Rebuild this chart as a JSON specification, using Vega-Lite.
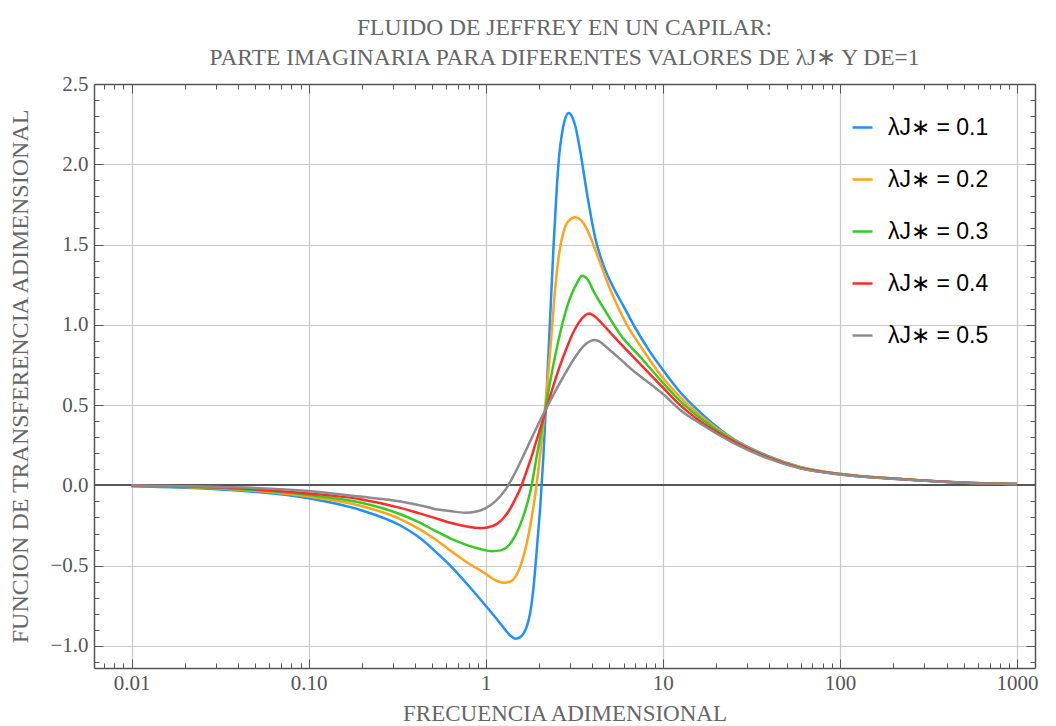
{
  "$schema": "https://vega.github.io/schema/vega-lite/v6.json",
  "width": 941,
  "height": 584,
  "autosize": "none",
  "padding": {"left": 94, "top": 84, "right": 21, "bottom": 58},
  "background": "white",
  "title": {
    "text": ["FLUIDO DE JEFFREY EN UN CAPILAR:", "PARTE  IMAGINARIA PARA DIFERENTES VALORES DE λJ∗ Y DE=1"],
    "font": "Liberation Serif",
    "fontSize": 23.5,
    "fontWeight": "normal",
    "color": "#666666",
    "lineHeight": 30,
    "anchor": "middle",
    "offset": 4
  },
  "datasets": {
    "curvas": [
      {"f": 0.01, "v": -0.005, "serie": "λJ∗ = 0.1"},
      {"f": 0.0318, "v": -0.025, "serie": "λJ∗ = 0.1"},
      {"f": 0.1, "v": -0.08, "serie": "λJ∗ = 0.1"},
      {"f": 0.196, "v": -0.153, "serie": "λJ∗ = 0.1"},
      {"f": 0.33, "v": -0.25, "serie": "λJ∗ = 0.1"},
      {"f": 0.4275, "v": -0.33, "serie": "λJ∗ = 0.1"},
      {"f": 0.506, "v": -0.4, "serie": "λJ∗ = 0.1"},
      {"f": 0.631, "v": -0.5, "serie": "λJ∗ = 0.1"},
      {"f": 0.787, "v": -0.616, "serie": "λJ∗ = 0.1"},
      {"f": 1.0, "v": -0.75, "serie": "λJ∗ = 0.1"},
      {"f": 1.209, "v": -0.86, "serie": "λJ∗ = 0.1"},
      {"f": 1.29, "v": -0.9, "serie": "λJ∗ = 0.1"},
      {"f": 1.376, "v": -0.935, "serie": "λJ∗ = 0.1"},
      {"f": 1.469, "v": -0.955, "serie": "λJ∗ = 0.1"},
      {"f": 1.568, "v": -0.945, "serie": "λJ∗ = 0.1"},
      {"f": 1.651, "v": -0.915, "serie": "λJ∗ = 0.1"},
      {"f": 1.717, "v": -0.87, "serie": "λJ∗ = 0.1"},
      {"f": 1.785, "v": -0.79, "serie": "λJ∗ = 0.1"},
      {"f": 1.864, "v": -0.63, "serie": "λJ∗ = 0.1"},
      {"f": 1.963, "v": -0.34, "serie": "λJ∗ = 0.1"},
      {"f": 2.033, "v": -0.13, "serie": "λJ∗ = 0.1"},
      {"f": 2.114, "v": 0.17, "serie": "λJ∗ = 0.1"},
      {"f": 2.198, "v": 0.53, "serie": "λJ∗ = 0.1"},
      {"f": 2.285, "v": 0.93, "serie": "λJ∗ = 0.1"},
      {"f": 2.345, "v": 1.19, "serie": "λJ∗ = 0.1"},
      {"f": 2.416, "v": 1.49, "serie": "λJ∗ = 0.1"},
      {"f": 2.526, "v": 1.87, "serie": "λJ∗ = 0.1"},
      {"f": 2.602, "v": 2.06, "serie": "λJ∗ = 0.1"},
      {"f": 2.695, "v": 2.19, "serie": "λJ∗ = 0.1"},
      {"f": 2.795, "v": 2.275, "serie": "λJ∗ = 0.1"},
      {"f": 2.937, "v": 2.32, "serie": "λJ∗ = 0.1"},
      {"f": 3.082, "v": 2.295, "serie": "λJ∗ = 0.1"},
      {"f": 3.204, "v": 2.24, "serie": "λJ∗ = 0.1"},
      {"f": 3.42, "v": 2.08, "serie": "λJ∗ = 0.1"},
      {"f": 3.73, "v": 1.82, "serie": "λJ∗ = 0.1"},
      {"f": 4.155, "v": 1.54, "serie": "λJ∗ = 0.1"},
      {"f": 4.628, "v": 1.37, "serie": "λJ∗ = 0.1"},
      {"f": 5.271, "v": 1.23, "serie": "λJ∗ = 0.1"},
      {"f": 5.977, "v": 1.12, "serie": "λJ∗ = 0.1"},
      {"f": 7.171, "v": 0.96, "serie": "λJ∗ = 0.1"},
      {"f": 8.49, "v": 0.83, "serie": "λJ∗ = 0.1"},
      {"f": 10, "v": 0.72, "serie": "λJ∗ = 0.1"},
      {"f": 12.54, "v": 0.58, "serie": "λJ∗ = 0.1"},
      {"f": 16.26, "v": 0.455, "serie": "λJ∗ = 0.1"},
      {"f": 24.97, "v": 0.29, "serie": "λJ∗ = 0.1"},
      {"f": 38.84, "v": 0.185, "serie": "λJ∗ = 0.1"},
      {"f": 59.63, "v": 0.115, "serie": "λJ∗ = 0.1"},
      {"f": 100, "v": 0.072, "serie": "λJ∗ = 0.1"},
      {"f": 218.6, "v": 0.04, "serie": "λJ∗ = 0.1"},
      {"f": 522, "v": 0.016, "serie": "λJ∗ = 0.1"},
      {"f": 1000, "v": 0.008, "serie": "λJ∗ = 0.1"},

      {"f": 0.01, "v": -0.004, "serie": "λJ∗ = 0.2"},
      {"f": 0.0318, "v": -0.02, "serie": "λJ∗ = 0.2"},
      {"f": 0.1, "v": -0.07, "serie": "λJ∗ = 0.2"},
      {"f": 0.196, "v": -0.127, "serie": "λJ∗ = 0.2"},
      {"f": 0.33, "v": -0.21, "serie": "λJ∗ = 0.2"},
      {"f": 0.4275, "v": -0.276, "serie": "λJ∗ = 0.2"},
      {"f": 0.506, "v": -0.328, "serie": "λJ∗ = 0.2"},
      {"f": 0.631, "v": -0.405, "serie": "λJ∗ = 0.2"},
      {"f": 0.787, "v": -0.48, "serie": "λJ∗ = 0.2"},
      {"f": 1.0, "v": -0.55, "serie": "λJ∗ = 0.2"},
      {"f": 1.133, "v": -0.59, "serie": "λJ∗ = 0.2"},
      {"f": 1.262, "v": -0.607, "serie": "λJ∗ = 0.2"},
      {"f": 1.376, "v": -0.6, "serie": "λJ∗ = 0.2"},
      {"f": 1.469, "v": -0.57, "serie": "λJ∗ = 0.2"},
      {"f": 1.568, "v": -0.505, "serie": "λJ∗ = 0.2"},
      {"f": 1.673, "v": -0.4, "serie": "λJ∗ = 0.2"},
      {"f": 1.785, "v": -0.25, "serie": "λJ∗ = 0.2"},
      {"f": 1.856, "v": -0.14, "serie": "λJ∗ = 0.2"},
      {"f": 1.93, "v": -0.01, "serie": "λJ∗ = 0.2"},
      {"f": 2.033, "v": 0.2, "serie": "λJ∗ = 0.2"},
      {"f": 2.141, "v": 0.43, "serie": "λJ∗ = 0.2"},
      {"f": 2.265, "v": 0.72, "serie": "λJ∗ = 0.2"},
      {"f": 2.345, "v": 0.92, "serie": "λJ∗ = 0.2"},
      {"f": 2.438, "v": 1.16, "serie": "λJ∗ = 0.2"},
      {"f": 2.579, "v": 1.42, "serie": "λJ∗ = 0.2"},
      {"f": 2.753, "v": 1.58, "serie": "λJ∗ = 0.2"},
      {"f": 2.925, "v": 1.645, "serie": "λJ∗ = 0.2"},
      {"f": 3.204, "v": 1.67, "serie": "λJ∗ = 0.2"},
      {"f": 3.464, "v": 1.65, "serie": "λJ∗ = 0.2"},
      {"f": 3.73, "v": 1.595, "serie": "λJ∗ = 0.2"},
      {"f": 4.248, "v": 1.44, "serie": "λJ∗ = 0.2"},
      {"f": 5.049, "v": 1.22, "serie": "λJ∗ = 0.2"},
      {"f": 6.273, "v": 1.0, "serie": "λJ∗ = 0.2"},
      {"f": 7.456, "v": 0.87, "serie": "λJ∗ = 0.2"},
      {"f": 10, "v": 0.67, "serie": "λJ∗ = 0.2"},
      {"f": 12.54, "v": 0.55, "serie": "λJ∗ = 0.2"},
      {"f": 16.26, "v": 0.435, "serie": "λJ∗ = 0.2"},
      {"f": 24.97, "v": 0.285, "serie": "λJ∗ = 0.2"},
      {"f": 38.84, "v": 0.18, "serie": "λJ∗ = 0.2"},
      {"f": 59.63, "v": 0.113, "serie": "λJ∗ = 0.2"},
      {"f": 100, "v": 0.071, "serie": "λJ∗ = 0.2"},
      {"f": 218.6, "v": 0.04, "serie": "λJ∗ = 0.2"},
      {"f": 522, "v": 0.016, "serie": "λJ∗ = 0.2"},
      {"f": 1000, "v": 0.008, "serie": "λJ∗ = 0.2"},

      {"f": 0.01, "v": -0.003, "serie": "λJ∗ = 0.3"},
      {"f": 0.0318, "v": -0.017, "serie": "λJ∗ = 0.3"},
      {"f": 0.1, "v": -0.06, "serie": "λJ∗ = 0.3"},
      {"f": 0.196, "v": -0.107, "serie": "λJ∗ = 0.3"},
      {"f": 0.33, "v": -0.18, "serie": "λJ∗ = 0.3"},
      {"f": 0.4275, "v": -0.234, "serie": "λJ∗ = 0.3"},
      {"f": 0.508, "v": -0.278, "serie": "λJ∗ = 0.3"},
      {"f": 0.631, "v": -0.33, "serie": "λJ∗ = 0.3"},
      {"f": 0.784, "v": -0.372, "serie": "λJ∗ = 0.3"},
      {"f": 0.932, "v": -0.396, "serie": "λJ∗ = 0.3"},
      {"f": 1.085, "v": -0.41, "serie": "λJ∗ = 0.3"},
      {"f": 1.209, "v": -0.405, "serie": "λJ∗ = 0.3"},
      {"f": 1.319, "v": -0.385, "serie": "λJ∗ = 0.3"},
      {"f": 1.413, "v": -0.345, "serie": "λJ∗ = 0.3"},
      {"f": 1.533, "v": -0.27, "serie": "λJ∗ = 0.3"},
      {"f": 1.609, "v": -0.21, "serie": "λJ∗ = 0.3"},
      {"f": 1.71, "v": -0.12, "serie": "λJ∗ = 0.3"},
      {"f": 1.797, "v": -0.025, "serie": "λJ∗ = 0.3"},
      {"f": 1.948, "v": 0.19, "serie": "λJ∗ = 0.3"},
      {"f": 2.141, "v": 0.44, "serie": "λJ∗ = 0.3"},
      {"f": 2.315, "v": 0.65, "serie": "λJ∗ = 0.3"},
      {"f": 2.526, "v": 0.86, "serie": "λJ∗ = 0.3"},
      {"f": 2.876, "v": 1.11, "serie": "λJ∗ = 0.3"},
      {"f": 3.275, "v": 1.26, "serie": "λJ∗ = 0.3"},
      {"f": 3.496, "v": 1.305, "serie": "λJ∗ = 0.3"},
      {"f": 3.745, "v": 1.285, "serie": "λJ∗ = 0.3"},
      {"f": 4.063, "v": 1.21, "serie": "λJ∗ = 0.3"},
      {"f": 4.836, "v": 1.07, "serie": "λJ∗ = 0.3"},
      {"f": 5.749, "v": 0.94, "serie": "λJ∗ = 0.3"},
      {"f": 7.456, "v": 0.8, "serie": "λJ∗ = 0.3"},
      {"f": 10, "v": 0.64, "serie": "λJ∗ = 0.3"},
      {"f": 12.54, "v": 0.525, "serie": "λJ∗ = 0.3"},
      {"f": 16.26, "v": 0.42, "serie": "λJ∗ = 0.3"},
      {"f": 24.97, "v": 0.28, "serie": "λJ∗ = 0.3"},
      {"f": 38.84, "v": 0.178, "serie": "λJ∗ = 0.3"},
      {"f": 59.63, "v": 0.11, "serie": "λJ∗ = 0.3"},
      {"f": 100, "v": 0.07, "serie": "λJ∗ = 0.3"},
      {"f": 218.6, "v": 0.04, "serie": "λJ∗ = 0.3"},
      {"f": 522, "v": 0.016, "serie": "λJ∗ = 0.3"},
      {"f": 1000, "v": 0.008, "serie": "λJ∗ = 0.3"},

      {"f": 0.01, "v": -0.002, "serie": "λJ∗ = 0.4"},
      {"f": 0.0318, "v": -0.013, "serie": "λJ∗ = 0.4"},
      {"f": 0.1, "v": -0.05, "serie": "λJ∗ = 0.4"},
      {"f": 0.196, "v": -0.086, "serie": "λJ∗ = 0.4"},
      {"f": 0.33, "v": -0.14, "serie": "λJ∗ = 0.4"},
      {"f": 0.4275, "v": -0.176, "serie": "λJ∗ = 0.4"},
      {"f": 0.508, "v": -0.201, "serie": "λJ∗ = 0.4"},
      {"f": 0.631, "v": -0.233, "serie": "λJ∗ = 0.4"},
      {"f": 0.784, "v": -0.256, "serie": "λJ∗ = 0.4"},
      {"f": 0.912, "v": -0.266, "serie": "λJ∗ = 0.4"},
      {"f": 1.021, "v": -0.262, "serie": "λJ∗ = 0.4"},
      {"f": 1.158, "v": -0.24, "serie": "λJ∗ = 0.4"},
      {"f": 1.257, "v": -0.205, "serie": "λJ∗ = 0.4"},
      {"f": 1.376, "v": -0.145, "serie": "λJ∗ = 0.4"},
      {"f": 1.469, "v": -0.085, "serie": "λJ∗ = 0.4"},
      {"f": 1.588, "v": -0.005, "serie": "λJ∗ = 0.4"},
      {"f": 1.673, "v": 0.065, "serie": "λJ∗ = 0.4"},
      {"f": 1.785, "v": 0.155, "serie": "λJ∗ = 0.4"},
      {"f": 1.955, "v": 0.295, "serie": "λJ∗ = 0.4"},
      {"f": 2.141, "v": 0.435, "serie": "λJ∗ = 0.4"},
      {"f": 2.416, "v": 0.625, "serie": "λJ∗ = 0.4"},
      {"f": 2.636, "v": 0.75, "serie": "λJ∗ = 0.4"},
      {"f": 2.876, "v": 0.86, "serie": "λJ∗ = 0.4"},
      {"f": 3.082, "v": 0.94, "serie": "λJ∗ = 0.4"},
      {"f": 3.275, "v": 0.995, "serie": "λJ∗ = 0.4"},
      {"f": 3.464, "v": 1.035, "serie": "λJ∗ = 0.4"},
      {"f": 3.648, "v": 1.06, "serie": "λJ∗ = 0.4"},
      {"f": 3.843, "v": 1.07, "serie": "λJ∗ = 0.4"},
      {"f": 4.102, "v": 1.055, "serie": "λJ∗ = 0.4"},
      {"f": 4.434, "v": 1.02, "serie": "λJ∗ = 0.4"},
      {"f": 4.836, "v": 0.975, "serie": "λJ∗ = 0.4"},
      {"f": 5.271, "v": 0.93, "serie": "λJ∗ = 0.4"},
      {"f": 6.546, "v": 0.82, "serie": "λJ∗ = 0.4"},
      {"f": 10, "v": 0.61, "serie": "λJ∗ = 0.4"},
      {"f": 12.54, "v": 0.5, "serie": "λJ∗ = 0.4"},
      {"f": 16.26, "v": 0.4, "serie": "λJ∗ = 0.4"},
      {"f": 24.97, "v": 0.275, "serie": "λJ∗ = 0.4"},
      {"f": 38.84, "v": 0.175, "serie": "λJ∗ = 0.4"},
      {"f": 59.63, "v": 0.108, "serie": "λJ∗ = 0.4"},
      {"f": 100, "v": 0.069, "serie": "λJ∗ = 0.4"},
      {"f": 218.6, "v": 0.039, "serie": "λJ∗ = 0.4"},
      {"f": 522, "v": 0.016, "serie": "λJ∗ = 0.4"},
      {"f": 1000, "v": 0.008, "serie": "λJ∗ = 0.4"},

      {"f": 0.01, "v": -0.001, "serie": "λJ∗ = 0.5"},
      {"f": 0.0318, "v": -0.01, "serie": "λJ∗ = 0.5"},
      {"f": 0.1, "v": -0.035, "serie": "λJ∗ = 0.5"},
      {"f": 0.196, "v": -0.07, "serie": "λJ∗ = 0.5"},
      {"f": 0.33, "v": -0.1, "serie": "λJ∗ = 0.5"},
      {"f": 0.4275, "v": -0.125, "serie": "λJ∗ = 0.5"},
      {"f": 0.508, "v": -0.145, "serie": "λJ∗ = 0.5"},
      {"f": 0.631, "v": -0.16, "serie": "λJ∗ = 0.5"},
      {"f": 0.767, "v": -0.17, "serie": "λJ∗ = 0.5"},
      {"f": 0.8735, "v": -0.164, "serie": "λJ∗ = 0.5"},
      {"f": 0.995, "v": -0.143, "serie": "λJ∗ = 0.5"},
      {"f": 1.133, "v": -0.1, "serie": "λJ∗ = 0.5"},
      {"f": 1.29, "v": -0.028, "serie": "λJ∗ = 0.5"},
      {"f": 1.469, "v": 0.08, "serie": "λJ∗ = 0.5"},
      {"f": 1.673, "v": 0.21, "serie": "λJ∗ = 0.5"},
      {"f": 1.905, "v": 0.342, "serie": "λJ∗ = 0.5"},
      {"f": 2.169, "v": 0.467, "serie": "λJ∗ = 0.5"},
      {"f": 2.471, "v": 0.585, "serie": "λJ∗ = 0.5"},
      {"f": 2.813, "v": 0.697, "serie": "λJ∗ = 0.5"},
      {"f": 3.204, "v": 0.8, "serie": "λJ∗ = 0.5"},
      {"f": 3.648, "v": 0.877, "serie": "λJ∗ = 0.5"},
      {"f": 4.155, "v": 0.905, "serie": "λJ∗ = 0.5"},
      {"f": 5.049, "v": 0.84, "serie": "λJ∗ = 0.5"},
      {"f": 6.546, "v": 0.73, "serie": "λJ∗ = 0.5"},
      {"f": 10, "v": 0.57, "serie": "λJ∗ = 0.5"},
      {"f": 12.54, "v": 0.47, "serie": "λJ∗ = 0.5"},
      {"f": 16.26, "v": 0.385, "serie": "λJ∗ = 0.5"},
      {"f": 24.97, "v": 0.265, "serie": "λJ∗ = 0.5"},
      {"f": 38.84, "v": 0.17, "serie": "λJ∗ = 0.5"},
      {"f": 59.63, "v": 0.106, "serie": "λJ∗ = 0.5"},
      {"f": 100, "v": 0.068, "serie": "λJ∗ = 0.5"},
      {"f": 218.6, "v": 0.038, "serie": "λJ∗ = 0.5"},
      {"f": 522, "v": 0.016, "serie": "λJ∗ = 0.5"},
      {"f": 1000, "v": 0.008, "serie": "λJ∗ = 0.5"}
    ]
  },
  "data": {"name": "curvas"},
  "layer": [
    {
      "mark": {"type": "rule", "color": "#555555", "strokeWidth": 1.2},
      "encoding": {
        "y": {"datum": 0, "type": "quantitative", "axis": null}
      }
    },
    {
      "mark": {"type": "line", "strokeWidth": 2.5, "interpolate": "monotone", "clip": true},
      "encoding": {
        "x": {
          "field": "f",
          "type": "quantitative",
          "scale": {"type": "log", "domain": [0.00614, 1264], "nice": false},
          "axis": {
            "orient": "bottom",
            "title": "FRECUENCIA ADIMENSIONAL",
            "titlePadding": 9,
            "values": [0.01, 0.1, 1, 10, 100, 1000],
            "labelExpr": "datum.value < 1 ? format(datum.value, '.2f') : format(datum.value, 'd')",
            "ticks": false,
            "grid": true,
            "labelPadding": 4,
            "labelFlush": false,
            "labelOverlap": false
          }
        },
        "y": {
          "field": "v",
          "type": "quantitative",
          "scale": {"domain": [-1.1375, 2.5], "nice": false, "zero": false},
          "axis": {
            "orient": "left",
            "title": "FUNCION DE TRANSFERENCIA ADIMENSIONAL",
            "titleFontSize": 24,
            "titlePadding": 17,
            "values": [-1.0, -0.5, 0, 0.5, 1.0, 1.5, 2.0, 2.5],
            "format": ".1f",
            "ticks": false,
            "grid": true,
            "labelPadding": 6,
            "labelFlush": false,
            "labelOverlap": false
          }
        },
        "color": {
          "field": "serie",
          "type": "nominal",
          "scale": {"range": ["#1E90FF", "#FFA31A", "#33CC22", "#FF2A2A", "#8C8C8C"]},
          "legend": {
            "title": null,
            "orient": "none",
            "legendX": 757,
            "legendY": 32,
            "symbolType": "stroke",
            "symbolStrokeWidth": 2.5,
            "symbolSize": 400,
            "labelFont": "Liberation Sans",
            "labelFontSize": 23,
            "labelColor": "#000000",
            "labelOffset": 14,
            "rowPadding": 28,
            "padding": 0
          }
        }
      }
    },
    {
      "mark": {"type": "point", "opacity": 0},
      "encoding": {
        "x": {
          "field": "f",
          "type": "quantitative",
          "axis": {
            "orient": "bottom", "title": null, "labels": false, "grid": false, "domain": false,
            "values": [0.007, 0.008, 0.009, 0.02, 0.03, 0.04, 0.05, 0.06, 0.07, 0.08, 0.09, 0.2, 0.3, 0.4, 0.5, 0.6, 0.7, 0.8, 0.9, 2, 3, 4, 5, 6, 7, 8, 9, 20, 30, 40, 50, 60, 70, 80, 90, 200, 300, 400, 500, 600, 700, 800, 900],
            "tickSize": -5
          }
        },
        "y": {
          "field": "v",
          "type": "quantitative",
          "axis": {
            "orient": "left", "title": null, "labels": false, "grid": false, "domain": false,
            "values": [-1.1, -0.9, -0.8, -0.7, -0.6, -0.4, -0.3, -0.2, -0.1, 0.1, 0.2, 0.3, 0.4, 0.6, 0.7, 0.8, 0.9, 1.1, 1.2, 1.3, 1.4, 1.6, 1.7, 1.8, 1.9, 2.1, 2.2, 2.3, 2.4],
            "tickSize": -5
          }
        }
      }
    },
    {
      "mark": {"type": "point", "opacity": 0},
      "encoding": {
        "x": {
          "field": "f",
          "type": "quantitative",
          "axis": {
            "orient": "bottom", "title": null, "labels": false, "grid": false, "domain": false,
            "values": [0.01, 0.1, 1, 10, 100, 1000],
            "tickSize": -9
          }
        },
        "y": {
          "field": "v",
          "type": "quantitative",
          "axis": {
            "orient": "left", "title": null, "labels": false, "grid": false, "domain": false,
            "values": [-1.0, -0.5, 0, 0.5, 1.0, 1.5, 2.0, 2.5],
            "tickSize": -9
          }
        }
      }
    },
    {
      "mark": {"type": "point", "opacity": 0},
      "encoding": {
        "x": {
          "field": "f",
          "type": "quantitative",
          "axis": {
            "orient": "top", "title": null, "labels": false, "grid": false,
            "values": [0.007, 0.008, 0.009, 0.02, 0.03, 0.04, 0.05, 0.06, 0.07, 0.08, 0.09, 0.2, 0.3, 0.4, 0.5, 0.6, 0.7, 0.8, 0.9, 2, 3, 4, 5, 6, 7, 8, 9, 20, 30, 40, 50, 60, 70, 80, 90, 200, 300, 400, 500, 600, 700, 800, 900],
            "tickSize": -5
          }
        },
        "y": {
          "field": "v",
          "type": "quantitative",
          "axis": {
            "orient": "right", "title": null, "labels": false, "grid": false,
            "values": [-1.1, -0.9, -0.8, -0.7, -0.6, -0.4, -0.3, -0.2, -0.1, 0.1, 0.2, 0.3, 0.4, 0.6, 0.7, 0.8, 0.9, 1.1, 1.2, 1.3, 1.4, 1.6, 1.7, 1.8, 1.9, 2.1, 2.2, 2.3, 2.4],
            "tickSize": -5
          }
        }
      }
    },
    {
      "mark": {"type": "point", "opacity": 0},
      "encoding": {
        "x": {
          "field": "f",
          "type": "quantitative",
          "axis": {
            "orient": "top", "title": null, "labels": false, "grid": false, "domain": false,
            "values": [0.01, 0.1, 1, 10, 100, 1000],
            "tickSize": -9
          }
        },
        "y": {
          "field": "v",
          "type": "quantitative",
          "axis": {
            "orient": "right", "title": null, "labels": false, "grid": false, "domain": false,
            "values": [-1.0, -0.5, 0, 0.5, 1.0, 1.5, 2.0, 2.5],
            "tickSize": -9
          }
        }
      }
    }
  ],
  "resolve": {"axis": {"x": "independent", "y": "independent"}},
  "config": {
    "view": {"stroke": null},
    "axis": {
      "domainColor": "#555555",
      "domainWidth": 1.5,
      "tickColor": "#555555",
      "tickWidth": 1,
      "gridColor": "#c8c8c8",
      "gridWidth": 1.2,
      "labelFont": "Liberation Serif",
      "labelFontSize": 21,
      "labelColor": "#555555",
      "titleFont": "Liberation Serif",
      "titleFontSize": 23,
      "titleFontWeight": "normal",
      "titleColor": "#666666"
    }
  }
}
